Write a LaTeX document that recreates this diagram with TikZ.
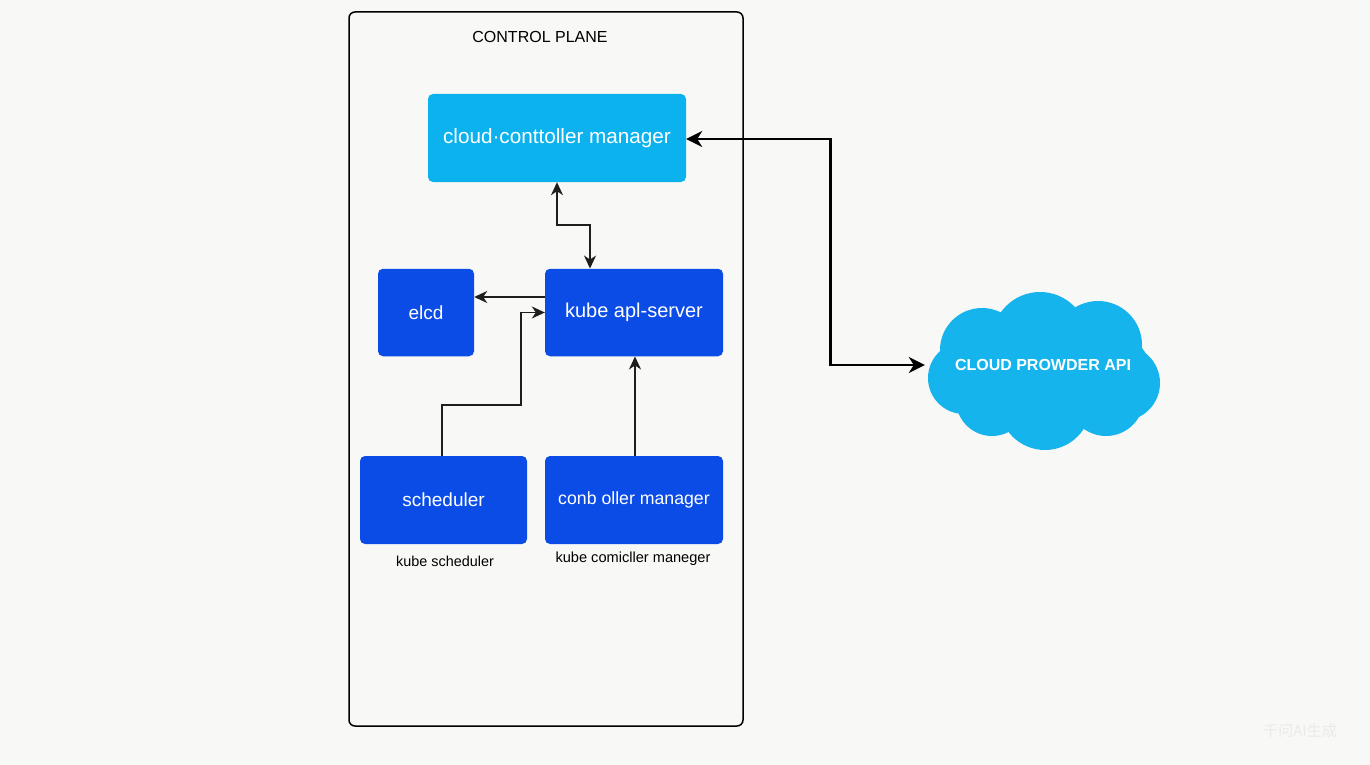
\documentclass[tikz,border=0pt]{standalone}
\usepackage{fontspec}
\setmainfont{Liberation Sans}
\newfontfamily\cjk{Noto Sans CJK SC}
\usetikzlibrary{arrows.meta,calc}
\definecolor{bg}{RGB}{248,248,246}
\definecolor{lightblue}{RGB}{12,178,238}
\definecolor{darkblue}{RGB}{12,76,230}
\definecolor{cloudblue}{RGB}{22,180,236}
\definecolor{linegray}{RGB}{30,30,30}
\definecolor{wm}{RGB}{234,234,232}
\tikzset{
  box/.style={rounded corners=5pt, minimum width=#1, text=white, inner sep=0pt,
              font=\fontsize{19}{21}\selectfont},
  lbox/.style={box=#1, fill=lightblue, minimum height=88pt, font=\fontsize{20.7}{23}\selectfont},
  dbox/.style={box=#1, fill=darkblue, minimum height=87.5pt},
  caption/.style={font=\fontsize{14.4}{16}\selectfont, text=black},
  arr/.style={draw=linegray, line width=1.6pt, -{Stealth[length=13pt,width=12pt,inset=4pt]}},
  darr/.style={draw=linegray, line width=1.6pt, {Stealth[length=13pt,width=12pt,inset=4pt]}-{Stealth[length=13pt,width=12pt,inset=4pt]}},
  bigarr/.style={draw=black, line width=2.8pt, {Stealth[length=16pt,width=16pt,inset=5pt]}-{Stealth[length=16pt,width=16pt,inset=5pt]}},
  puff/.style={fill=cloudblue, draw=none}
}
\begin{document}
\begin{tikzpicture}[x=1pt,y=-1pt]
\fill[bg] (0,0) rectangle (1370,765);
\useasboundingbox (0,0) rectangle (1370,765);

% control plane frame
\node[draw=black, line width=1.5pt, rounded corners=6pt, minimum width=394pt, minimum height=714pt, inner sep=0pt] (frame) at (546,369) {};
\node[font=\fontsize{16}{18}\selectfont] (title) at (540,37) {CONTROL PLANE};

% boxes
\node[lbox=258pt] (ccm) at (557,138) {cloud·conttoller manager};
\node[dbox=96pt] (etcd) at (426,312.5) {elcd};
\node[dbox=178pt, font=\fontsize{20}{22}\selectfont] (api) at (634,312.5) {kube apl-server};
\node[dbox=167pt, minimum height=88pt] (sched) at (443.5,500) {scheduler};
\node[dbox=178pt, minimum height=88pt, font=\fontsize{17.7}{19}\selectfont] (cm) at (634,500) {conb oller manager};
\node[caption] (schedcap) at (445,561) {kube scheduler};
\node[caption, font=\fontsize{14.6}{16}\selectfont] (cmcap) at (633,559) {kube comicller maneger};

% cloud
\fill[puff] (1040,340) circle (48);
\fill[puff] (982,350) circle (42);
\fill[puff] (964,378) circle (36);
\fill[puff] (992,400) circle (36);
\fill[puff] (1045,404) circle (46);
\fill[puff] (1106,398) circle (38);
\fill[puff] (1122,383) circle (38);
\fill[puff] (1098,345) circle (44);
\fill[puff] (1043,372) ellipse (108 and 60);
\node[minimum width=236pt, minimum height=150pt, inner sep=0pt, text=white,
      font=\bfseries\fontsize{16}{18}\selectfont] (cloud) at (1043,365) {CLOUD PROWDER API};

% connectors
\draw[darr] (ccm.south) -- ++(0,43) -| ([xshift=-44pt]api.north);
\draw[arr] ([yshift=15.5pt]api.west) coordinate (a1) -- (a1 -| etcd.east);
\draw[arr] ([xshift=-1.5pt]sched.north) -- ++(0,-51) -- ++(79,0) |- (api.west);
\draw[arr] ([xshift=1pt]cm.north) -- ([xshift=1pt]api.south);
\draw[bigarr] ([yshift=-1pt]ccm.east) -- ++(144,0) |- (cloud.west);

% watermark
\node[text=wm, font=\cjk\fontsize{15}{17}\selectfont] (wmark) at (1300,731) {千问AI生成};
\end{tikzpicture}
\end{document}
